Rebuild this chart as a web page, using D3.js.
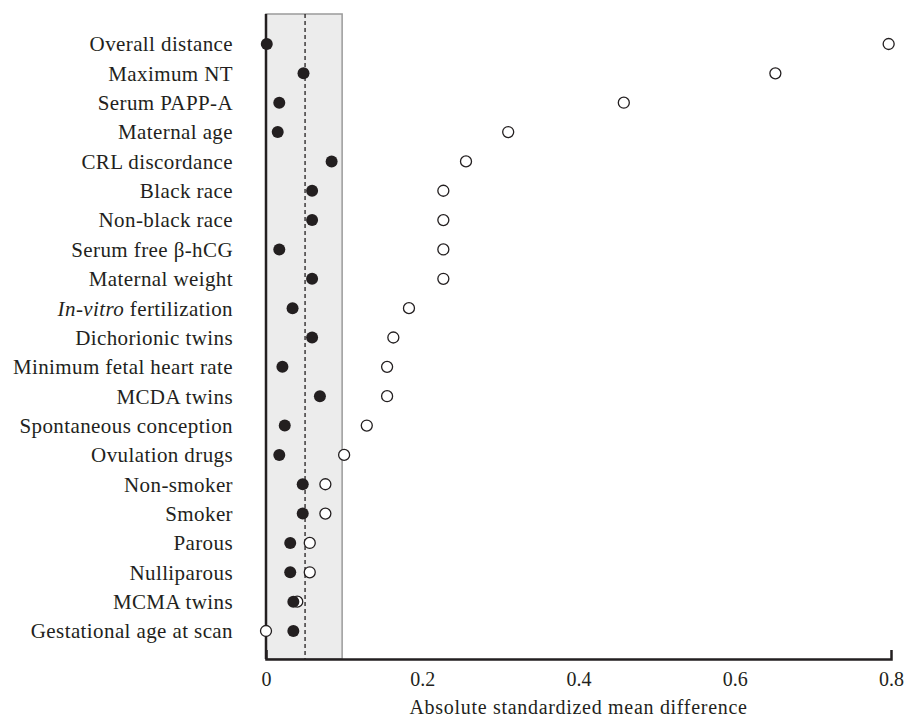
<!DOCTYPE html>
<html>
<head>
<meta charset="utf-8">
<script src="https://cdn.jsdelivr.net/npm/d3@7"></script>
<style>
  body { margin: 0; background: #fff; }
  text { font-family: "Liberation Serif", "DejaVu Serif", serif; fill: #231f20; }
</style>
</head>
<body>
<svg id="chart"></svg>
<script>
const width = 907;
const height = 722;

// covariates, top to bottom
const covariates = [
  "Overall distance", "Maximum NT", "Serum PAPP-A", "Maternal age",
  "CRL discordance", "Black race", "Non-black race", "Serum free β-hCG",
  "Maternal weight", "In-vitro fertilization", "Dichorionic twins",
  "Minimum fetal heart rate", "MCDA twins", "Spontaneous conception",
  "Ovulation drugs", "Non-smoker", "Smoker", "Parous", "Nulliparous",
  "MCMA twins", "Gestational age at scan"
];
// after matching (filled)
const matched = [
  0.001, 0.048, 0.017, 0.015, 0.084, 0.059, 0.059, 0.017, 0.059, 0.034,
  0.059, 0.021, 0.069, 0.024, 0.017, 0.047, 0.047, 0.031, 0.031, 0.035, 0.035
];
// before matching (open)
const unmatched = [
  0.797, 0.652, 0.458, 0.310, 0.256, 0.227, 0.227, 0.227, 0.227, 0.183,
  0.163, 0.155, 0.155, 0.129, 0.100, 0.076, 0.076, 0.056, 0.056, 0.040, 0.000
];
const xTicks = [0, 0.2, 0.4, 0.6, 0.8];
const band = [0, 0.1];
const refLine = 0.05;

const plotLeft = 266, plotRight = 891, plotTop = 14, plotBottom = 659;

let svg = d3.select("#chart").attr("width", width).attr("height", height);

let x = d3.scaleLinear().domain([0, 0.8]).range([plotLeft, plotRight]);
let y = d3.scalePoint().domain(covariates).range([44, 631]);

// shaded band
svg.append("rect")
  .attr("x", x(band[0]))
  .attr("y", plotTop)
  .attr("width", x(band[1]) - x(band[0]) - 2)
  .attr("height", plotBottom - plotTop)
  .attr("fill", "#ececec")
  .attr("stroke", "#9a9a9a")
  .attr("stroke-width", 1.5);

// dashed reference
svg.append("line")
  .attr("x1", x(refLine)).attr("x2", x(refLine))
  .attr("y1", plotTop).attr("y2", plotBottom)
  .attr("stroke", "#231f20")
  .attr("stroke-width", 1.3)
  .attr("stroke-dasharray", "4,3");

// left axis line
svg.append("line")
  .attr("x1", plotLeft).attr("x2", plotLeft)
  .attr("y1", plotTop).attr("y2", plotBottom)
  .attr("stroke", "#231f20")
  .attr("stroke-width", 2.5);

// bottom axis
let xAxis = svg.append("g")
  .attr("transform", `translate(0,${plotBottom})`)
  .call(d3.axisBottom(x)
    .tickValues(xTicks)
    .tickSizeInner(0)
    .tickSizeOuter(-9)
    .tickPadding(13)
    .tickFormat(d3.format("")));
xAxis.attr("font-family", null).attr("font-size", null);
xAxis.select(".domain").attr("stroke", "#231f20").attr("stroke-width", 2.5);
xAxis.selectAll("text")
  .style("font-size", "20px")
  .attr("fill", "#231f20");

svg.append("text")
  .attr("x", (plotLeft + plotRight) / 2)
  .attr("y", 714)
  .attr("text-anchor", "middle")
  .style("font-size", "20px")
  .style("letter-spacing", "0.7px")
  .text("Absolute standardized mean difference");

// row labels
let labels = svg.append("g").selectAll("text")
  .data(covariates)
  .enter()
  .append("text")
  .attr("x", 233)
  .attr("y", d => y(d))
  .attr("dy", "0.35em")
  .attr("text-anchor", "end")
  .style("font-size", "21px")
  .style("letter-spacing", "0.4px");

labels.each(function(d) {
  let t = d3.select(this);
  if (d.startsWith("In-vitro")) {
    t.append("tspan").attr("font-style", "italic").text("In-vitro");
    t.append("tspan").text(d.slice(8));
  } else {
    t.text(d);
  }
});

// open circles
svg.append("g").selectAll("circle")
  .data(covariates)
  .enter()
  .append("circle")
  .attr("cx", (d, i) => x(unmatched[i]))
  .attr("cy", d => y(d))
  .attr("r", 5.5)
  .attr("fill", "#fff")
  .attr("stroke", "#231f20")
  .attr("stroke-width", 1.3);

// filled circles
svg.append("g").selectAll("circle")
  .data(covariates)
  .enter()
  .append("circle")
  .attr("cx", (d, i) => x(matched[i]))
  .attr("cy", d => y(d))
  .attr("r", 6)
  .attr("fill", "#231f20");
</script>
</body>
</html>
